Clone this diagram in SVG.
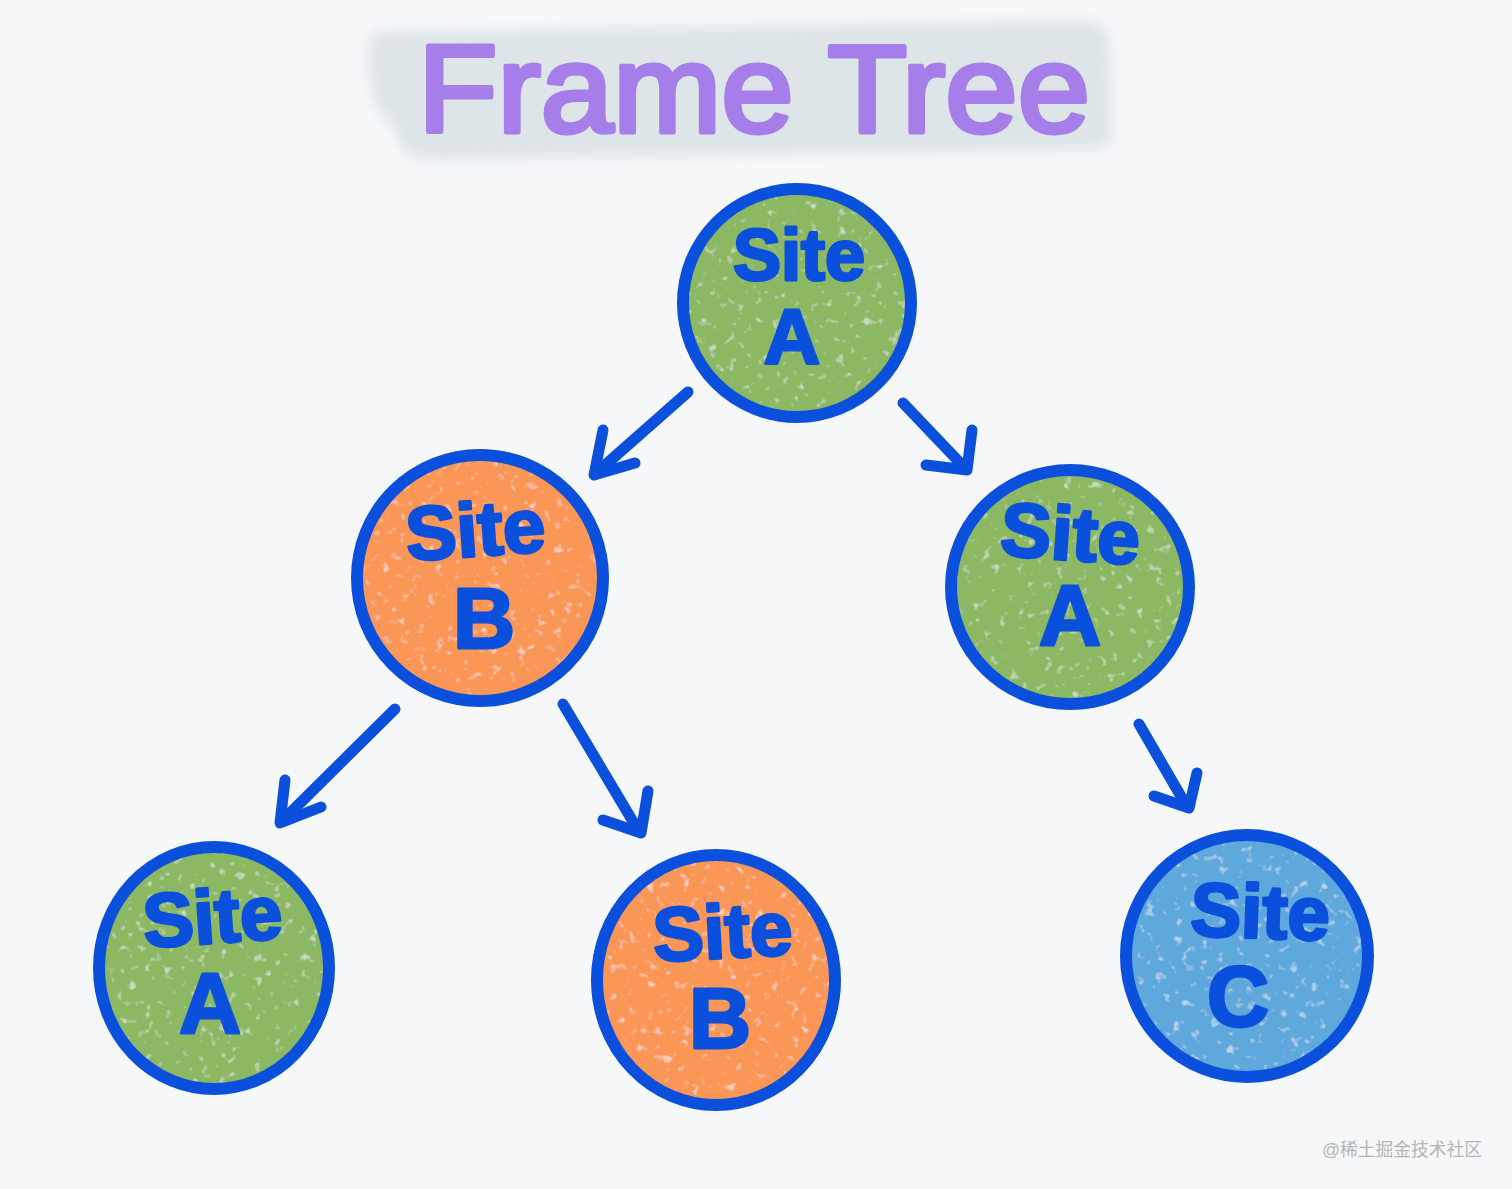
<svg xmlns="http://www.w3.org/2000/svg" width="1512" height="1189" viewBox="0 0 1512 1189">
  <defs>
    <filter id="soft" x="-10%" y="-30%" width="120%" height="160%">
      <feGaussianBlur stdDeviation="6"/>
    </filter>
    <filter id="chalk" x="0" y="0" width="100%" height="100%">
      <feTurbulence type="fractalNoise" baseFrequency="0.11" numOctaves="2" seed="7" result="n"/>
      <feColorMatrix in="n" type="matrix" values="0 0 0 0 1  0 0 0 0 1  0 0 0 0 1  5 0 0 0 -3.1" result="spk"/>
      <feComponentTransfer in="spk" result="spk2"><feFuncA type="linear" slope="0.45"/></feComponentTransfer>
      <feComposite in="spk2" in2="SourceAlpha" operator="in" result="s2"/>
      <feMerge><feMergeNode in="SourceGraphic"/><feMergeNode in="s2"/></feMerge>
    </filter>
    <style>
      .ring { fill: none; stroke: #0b50dc; stroke-width: 12; }
      .green { fill: #8cb764; }
      .orange { fill: #fa9656; }
      .blue { fill: #5fa8dc; }
      .lbl { font-family: "Liberation Sans", "DejaVu Sans", sans-serif; font-weight: bold; fill: #0b50dc; stroke: #0b50dc; stroke-width: 3; stroke-linejoin: round; text-anchor: middle; }
      .word { font-size: 76px; }
      .letter { font-size: 86px; }
      .rw { font-size: 72px; }
      .rl { font-size: 78px; }
      .arrow { fill: none; stroke: #0b50dc; stroke-width: 11; stroke-linecap: round; stroke-linejoin: round; }
    </style>
  </defs>
  <rect width="1512" height="1189" fill="#f6f7f8"/>

  <g id="title">
    <path d="M372 32 L1085 20 Q1108 22 1110 45 L1112 140 Q1100 152 1080 150 L430 160 Q400 160 396 130 L378 110 Q362 70 372 32 Z" fill="#dee5e9" filter="url(#soft)"/>
    <text x="418" y="132" textLength="672" lengthAdjust="spacingAndGlyphs" font-family="Liberation Sans, DejaVu Sans, sans-serif" font-size="124" fill="#a67ee9" stroke="#a67ee9" stroke-width="5" stroke-linejoin="round" stroke-linecap="round">Frame Tree</text>
  </g>

  <g id="connectors">
    <g id="edge-root-b1">
      <path class="arrow" d="M688 392 L595 474"/>
      <path class="arrow" d="M603 430 L594 475 L635 463"/>
    </g>
    <g id="edge-root-a2">
      <path class="arrow" d="M903 403 L965 468"/>
      <path class="arrow" d="M972 430 L967 470 L926 465"/>
    </g>
    <g id="edge-b1-a3">
      <path class="arrow" d="M395 709 L282 821"/>
      <path class="arrow" d="M285 780 L280 823 L321 807"/>
    </g>
    <g id="edge-b1-b2">
      <path class="arrow" d="M563 704 L638 830"/>
      <path class="arrow" d="M648 791 L641 833 L603 820"/>
    </g>
    <g id="edge-a2-c">
      <path class="arrow" d="M1139 724 L1186 805"/>
      <path class="arrow" d="M1197 773 L1189 808 L1154 796"/>
    </g>
  </g>

  <g id="node-root">
    <ellipse class="green" filter="url(#chalk)" cx="797" cy="303" rx="114" ry="114"/>
    <ellipse class="ring" cx="797" cy="303" rx="114" ry="114"/>
    <text class="lbl rw" x="799" y="280">Site</text>
    <text class="lbl rl" x="792" y="364">A</text>
  </g>

  <g id="node-b1">
    <ellipse class="orange" filter="url(#chalk)" cx="480" cy="578" rx="123" ry="123"/>
    <ellipse class="ring" cx="480" cy="578" rx="123" ry="123"/>
    <text class="lbl word" x="476" y="556" transform="rotate(-4 476 540)">Site</text>
    <text class="lbl letter" x="484" y="648">B</text>
  </g>

  <g id="node-a2">
    <ellipse class="green" filter="url(#chalk)" cx="1070" cy="587" rx="119" ry="117"/>
    <ellipse class="ring" cx="1070" cy="587" rx="119" ry="117"/>
    <text class="lbl word" x="1070" y="560" transform="rotate(4 1070 540)">Site</text>
    <text class="lbl letter" x="1070" y="645">A</text>
  </g>

  <g id="node-a3">
    <ellipse class="green" filter="url(#chalk)" cx="214" cy="968" rx="115" ry="121"/>
    <ellipse class="ring" cx="214" cy="968" rx="115" ry="121"/>
    <text class="lbl word" x="213" y="943" transform="rotate(-4 213 925)">Site</text>
    <text class="lbl letter" x="210" y="1033">A</text>
  </g>

  <g id="node-b2">
    <ellipse class="orange" filter="url(#chalk)" cx="716" cy="980" rx="119" ry="125"/>
    <ellipse class="ring" cx="716" cy="980" rx="119" ry="125"/>
    <text class="lbl word" x="723" y="958" transform="rotate(-3 723 940)">Site</text>
    <text class="lbl letter" x="720" y="1048">B</text>
  </g>

  <g id="node-c">
    <ellipse class="blue" filter="url(#chalk)" cx="1247" cy="956" rx="121" ry="121"/>
    <ellipse class="ring" cx="1247" cy="956" rx="121" ry="121"/>
    <text class="lbl word" x="1260" y="938" transform="rotate(2 1260 920)">Site</text>
    <text class="lbl letter" x="1238" y="1026">C</text>
  </g>

  <text x="1322" y="1156" textLength="160" lengthAdjust="spacingAndGlyphs" font-family="Liberation Sans, Noto Sans CJK SC, sans-serif" font-size="18" fill="#b5b5b5">@稀土掘金技术社区</text>
</svg>
